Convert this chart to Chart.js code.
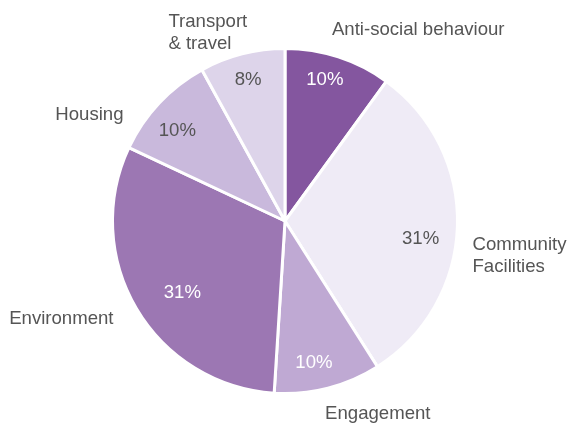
<!DOCTYPE html>
<html>
<head>
<meta charset="utf-8">
<script src="https://cdn.jsdelivr.net/npm/chart.js@4/dist/chart.umd.min.js"></script>
<style>
  html, body { margin: 0; padding: 0; background: #fff; }
  #wrap { width: 567px; height: 425px; }
</style>
</head>
<body>
<div id="wrap"><canvas id="chPie" width="567" height="425"></canvas></div>
<script>
// chart data
var categories = [['Anti-social behaviour'], ['Community', 'Facilities'], ['Engagement'], ['Environment'], ['Housing'], ['Transport', '& travel']];
var shares = [10, 31, 10, 31, 10, 8];

// chart colors
var sliceColors = ['#84569f', '#efebf6', '#bfa9d3', '#9c77b3', '#c9b9dc', '#ddd4ea'];
var pctColors = ['#ffffff', '#555555', '#ffffff', '#ffffff', '#555555', '#555555'];

// label anchors, in units of the pie radius from its centre
var pctSpots = [
    { x: 0.231, y: -0.821 },
    { x: 0.786, y: 0.104 },
    { x: 0.168, y: 0.821 },
    { x: -0.595, y: 0.416 },
    { x: -0.624, y: -0.520 },
    { x: -0.214, y: -0.821 }
];
var labelSpots = [
    { x: 0.272, y: -1.11, align: 'left' },
    { x: 1.087, y: 0.202, align: 'left' },
    { x: 0.538, y: 1.121, align: 'center' },
    { x: -0.994, y: 0.566, align: 'right' },
    { x: -0.936, y: -0.613, align: 'right' },
    { x: -0.676, y: -1.092, align: 'left' }
];

var textFont = '18.6px "Liberation Sans", Arial, Helvetica, sans-serif';

// draws percentages inside and category names outside the slices
var pieLabels = {
    id: 'pieLabels',
    afterDatasetsDraw: function (chart) {
        var ctx = chart.ctx;
        var meta = chart.getDatasetMeta(0);
        var total = shares.reduce(function (a, b) { return a + b; }, 0);
        ctx.save();
        ctx.font = textFont;
        ctx.textBaseline = 'middle';
        meta.data.forEach(function (arc, i) {
            var r = arc.outerRadius;
            var ps = pctSpots[i];
            ctx.fillStyle = pctColors[i];
            ctx.textAlign = 'center';
            ctx.fillText(Math.round(shares[i] / total * 100) + '%', arc.x + ps.x * r, arc.y + ps.y * r);

            var spot = labelSpots[i];
            var lines = categories[i];
            var lh = 22;
            var y0 = arc.y + spot.y * r - (lines.length - 1) * lh / 2;
            ctx.fillStyle = '#555555';
            ctx.textAlign = spot.align;
            lines.forEach(function (ln, k) {
                ctx.fillText(ln, arc.x + spot.x * r, y0 + k * lh);
            });
        });
        ctx.restore();
    }
};

var chPie = document.getElementById('chPie');
if (chPie) {
    new Chart(chPie, {
        type: 'pie',
        data: {
            labels: categories.map(function (c) { return c.join(' '); }),
            datasets: [
                {
                    data: shares,
                    backgroundColor: sliceColors,
                    borderColor: '#ffffff',
                    borderWidth: 3
                }
            ]
        },
        options: {
            responsive: false,
            animation: false,
            layout: { padding: { top: 47, bottom: 30, left: 111, right: 108 } },
            plugins: {
                legend: { display: false },
                tooltip: { enabled: false }
            }
        },
        plugins: [pieLabels]
    });
}
</script>
</body>
</html>
